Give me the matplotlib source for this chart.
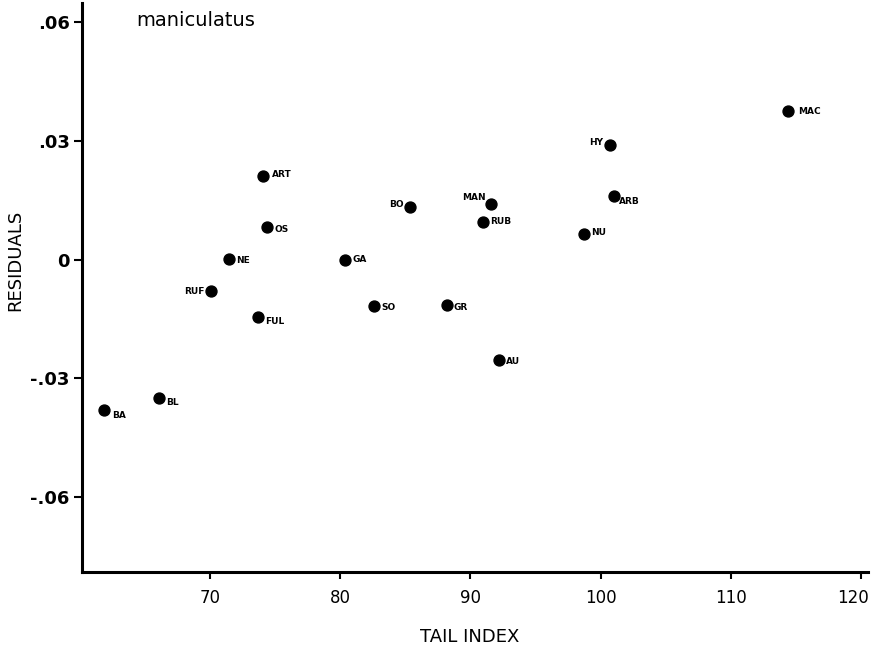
import matplotlib
matplotlib.use("Agg")
import matplotlib.pyplot as plt
import matplotlib.transforms as mtransforms

# populations (maniculatus), tail index vs residuals
labels = ["BA", "BL", "RUF", "NE", "FUL", "ART", "OS", "GA", "SO", "BO",
          "GR", "MAN", "RUB", "AU", "NU", "HY", "ARB", "MAC"]
tail_index = [61.9, 66.1, 70.1, 71.5, 73.7, 74.1, 74.4, 80.4, 82.6, 85.4,
              88.2, 91.6, 91.0, 92.2, 98.7, 100.7, 101.0, 114.4]
residuals = [-0.0380, -0.0350, -0.0080, 0.0001, -0.0145, 0.0211, 0.0082, 0.0000,
             -0.0117, 0.0133, -0.0115, 0.0140, 0.0095, -0.0254, 0.0064, 0.0289,
             0.0160, 0.0375]

xticks = [70, 80, 90, 100, 110, 120]
yticks = [-0.06, -0.03, 0, 0.03, 0.06]
ytick_labels = ["-.06", "-.03", "0", ".03", ".06"]

# label placement (offset in points, horizontal alignment)
offsets = {
    "BA": (6, -4, "left"), "BL": (5, -3, "left"), "RUF": (-5, 0, "right"),
    "NE": (5, -1, "left"), "FUL": (5, -3, "left"), "ART": (6, 1, "left"),
    "OS": (5, -2, "left"), "GA": (5, 0, "left"), "SO": (5, -1, "left"),
    "BO": (-5, 2, "right"), "GR": (5, -2, "left"), "MAN": (-4, 5, "right"),
    "RUB": (5, 0, "left"), "AU": (5, -1, "left"), "NU": (5, 1, "left"),
    "HY": (-5, 2, "right"), "ARB": (4, -4, "left"), "MAC": (7, 0, "left"),
}

W, H = 871, 658
fig = plt.figure(figsize=(W / 100, H / 100), dpi=100)
ax = fig.add_axes([82 / W, 1 - 572 / H, 786 / W, 569 / H])

ax.scatter(tail_index, residuals, s=62, color="black", zorder=3)
for name, x, y in zip(labels, tail_index, residuals):
    dx, dy, ha = offsets[name]
    ax.annotate(name, (x, y), xytext=(dx, dy), textcoords="offset points",
                ha=ha, va="center", fontsize=6.5, fontweight="bold")

ax.set_xlim(60.2, 120.5)
ax.set_ylim(-0.0789, 0.0648)

for side in ["top", "right"]:
    ax.spines[side].set_visible(False)
for side in ["left", "bottom"]:
    ax.spines[side].set_linewidth(2.2)

ax.set_xticks(xticks)
ax.set_xticklabels([str(t) for t in xticks], fontsize=12)
ax.set_yticks(yticks)
ax.set_yticklabels(ytick_labels, fontsize=13, fontweight="bold")
ax.tick_params(axis="y", length=6, width=1.5, pad=3)
ax.tick_params(axis="x", length=5, width=1.5, pad=7)

# nudge the last x label left so it stays inside the figure
last = ax.get_xticklabels()[-1]
last.set_transform(last.get_transform() +
                   mtransforms.ScaledTranslation(-8 / 100, 0, fig.dpi_scale_trans))

# axis titles and panel name, placed in figure pixels
fig.text(470 / W, 1 - 637 / H, "TAIL INDEX", fontsize=13,
         ha="center", va="center")
fig.text(15 / W, 1 - 260 / H, "RESIDUALS", fontsize=13, rotation=90,
         ha="center", va="center")
fig.text(136 / W, 1 - 20 / H, "maniculatus", fontsize=14,
         ha="left", va="center")

fig.savefig("out.png", dpi=100)
